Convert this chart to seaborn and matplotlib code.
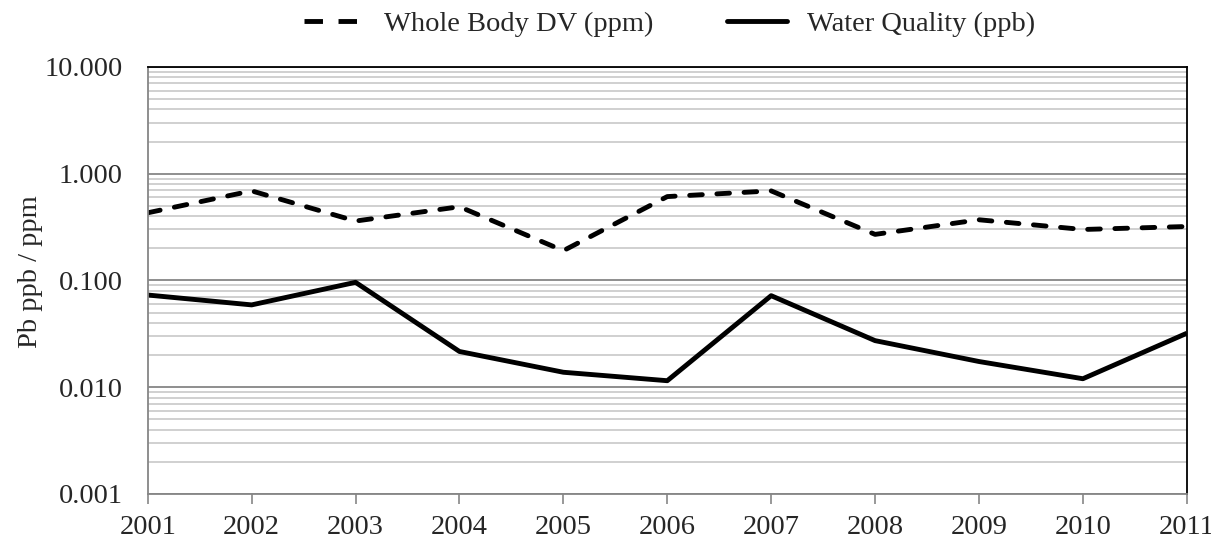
import numpy as np
import pandas as pd
import seaborn as sns
from matplotlib import pyplot as plt
from matplotlib.lines import Line2D
from matplotlib.ticker import FixedLocator, FixedFormatter, NullFormatter, LogLocator

years = [2001, 2002, 2003, 2004, 2005, 2006, 2007, 2008, 2009, 2010, 2011]
whole_body = [0.43, 0.69, 0.36, 0.49, 0.19, 0.61, 0.69, 0.27, 0.37, 0.30, 0.32]
water_quality = [0.073, 0.059, 0.096, 0.0216, 0.0138, 0.0115, 0.072, 0.0273, 0.0174, 0.012, 0.032]
y_ticks = [0.001, 0.01, 0.1, 1, 10]
y_tick_labels = ['0.001', '0.010', '0.100', '1.000', '10.000']

df = pd.DataFrame({'year': years, 'whole': whole_body, 'water': water_quality})

sns.set_style('white')
plt.rcParams['font.family'] = ['Liberation Serif', 'DejaVu Serif']
fs = 20.5

fig = plt.figure(figsize=(12.11, 5.44), dpi=100)
ax = fig.add_axes([0.122, 0.092, 0.858, 0.785])

sns.lineplot(data=df, x='year', y='whole', ax=ax, color='black', linewidth=3.5)
sns.lineplot(data=df, x='year', y='water', ax=ax, color='black', linewidth=3.5)
ln = ax.lines[0]
ln.set_linestyle((0, (2.6, 3.0)))
ln.set_dash_capstyle('round')
ln.set_dash_joinstyle('round')
ax.lines[1].set_solid_capstyle('butt')
ax.lines[1].set_solid_joinstyle('round')

ax.set_yscale('log')
ax.set_ylim(0.001, 10)
ax.set_xlim(2001, 2011)
ax.yaxis.set_major_locator(FixedLocator(y_ticks))
ax.yaxis.set_major_formatter(FixedFormatter(y_tick_labels))
ax.yaxis.set_minor_locator(LogLocator(base=10, subs=np.arange(2, 10)))
ax.yaxis.set_minor_formatter(NullFormatter())
ax.set_xticks(years)
ax.set_xticklabels([str(y) for y in years])

ax.grid(True, which='major', axis='y', color='#868686', linewidth=1.3)
ax.grid(True, which='minor', axis='y', color='#c4c4c4', linewidth=1.1)
ax.set_axisbelow(True)

for s in ['left', 'bottom']:
    ax.spines[s].set_color('#868686')
    ax.spines[s].set_linewidth(1.3)
for s in ['top', 'right']:
    ax.spines[s].set_color('black')
    ax.spines[s].set_linewidth(1.3)

ax.tick_params(axis='x', which='major', direction='out', length=7, width=1.2,
               color='#868686', labelsize=fs, pad=8, bottom=True)
ax.tick_params(axis='y', which='both', length=0, labelsize=fs, pad=18)

ax.set_xlabel('')
ax.set_ylabel('Pb ppb / ppm', fontsize=fs, labelpad=4)
ax.yaxis.set_label_coords(-0.101, 0.52)

# legend handles
h_dash = Line2D([], [], color='black', linewidth=3.5, linestyle=(0, (3.8, 3.2)),
                dash_capstyle='butt')
h_solid = Line2D([], [], color='black', linewidth=3.5)
fig.legend([h_dash, h_solid], ['Whole Body DV (ppm)', 'Water Quality (ppb)'],
           loc='center', bbox_to_anchor=(0.553, 0.955), ncol=2, frameon=False,
           fontsize=fs, handlelength=2.1, columnspacing=2.6, handletextpad=0.7)

fig.savefig('out.png', dpi=100)
